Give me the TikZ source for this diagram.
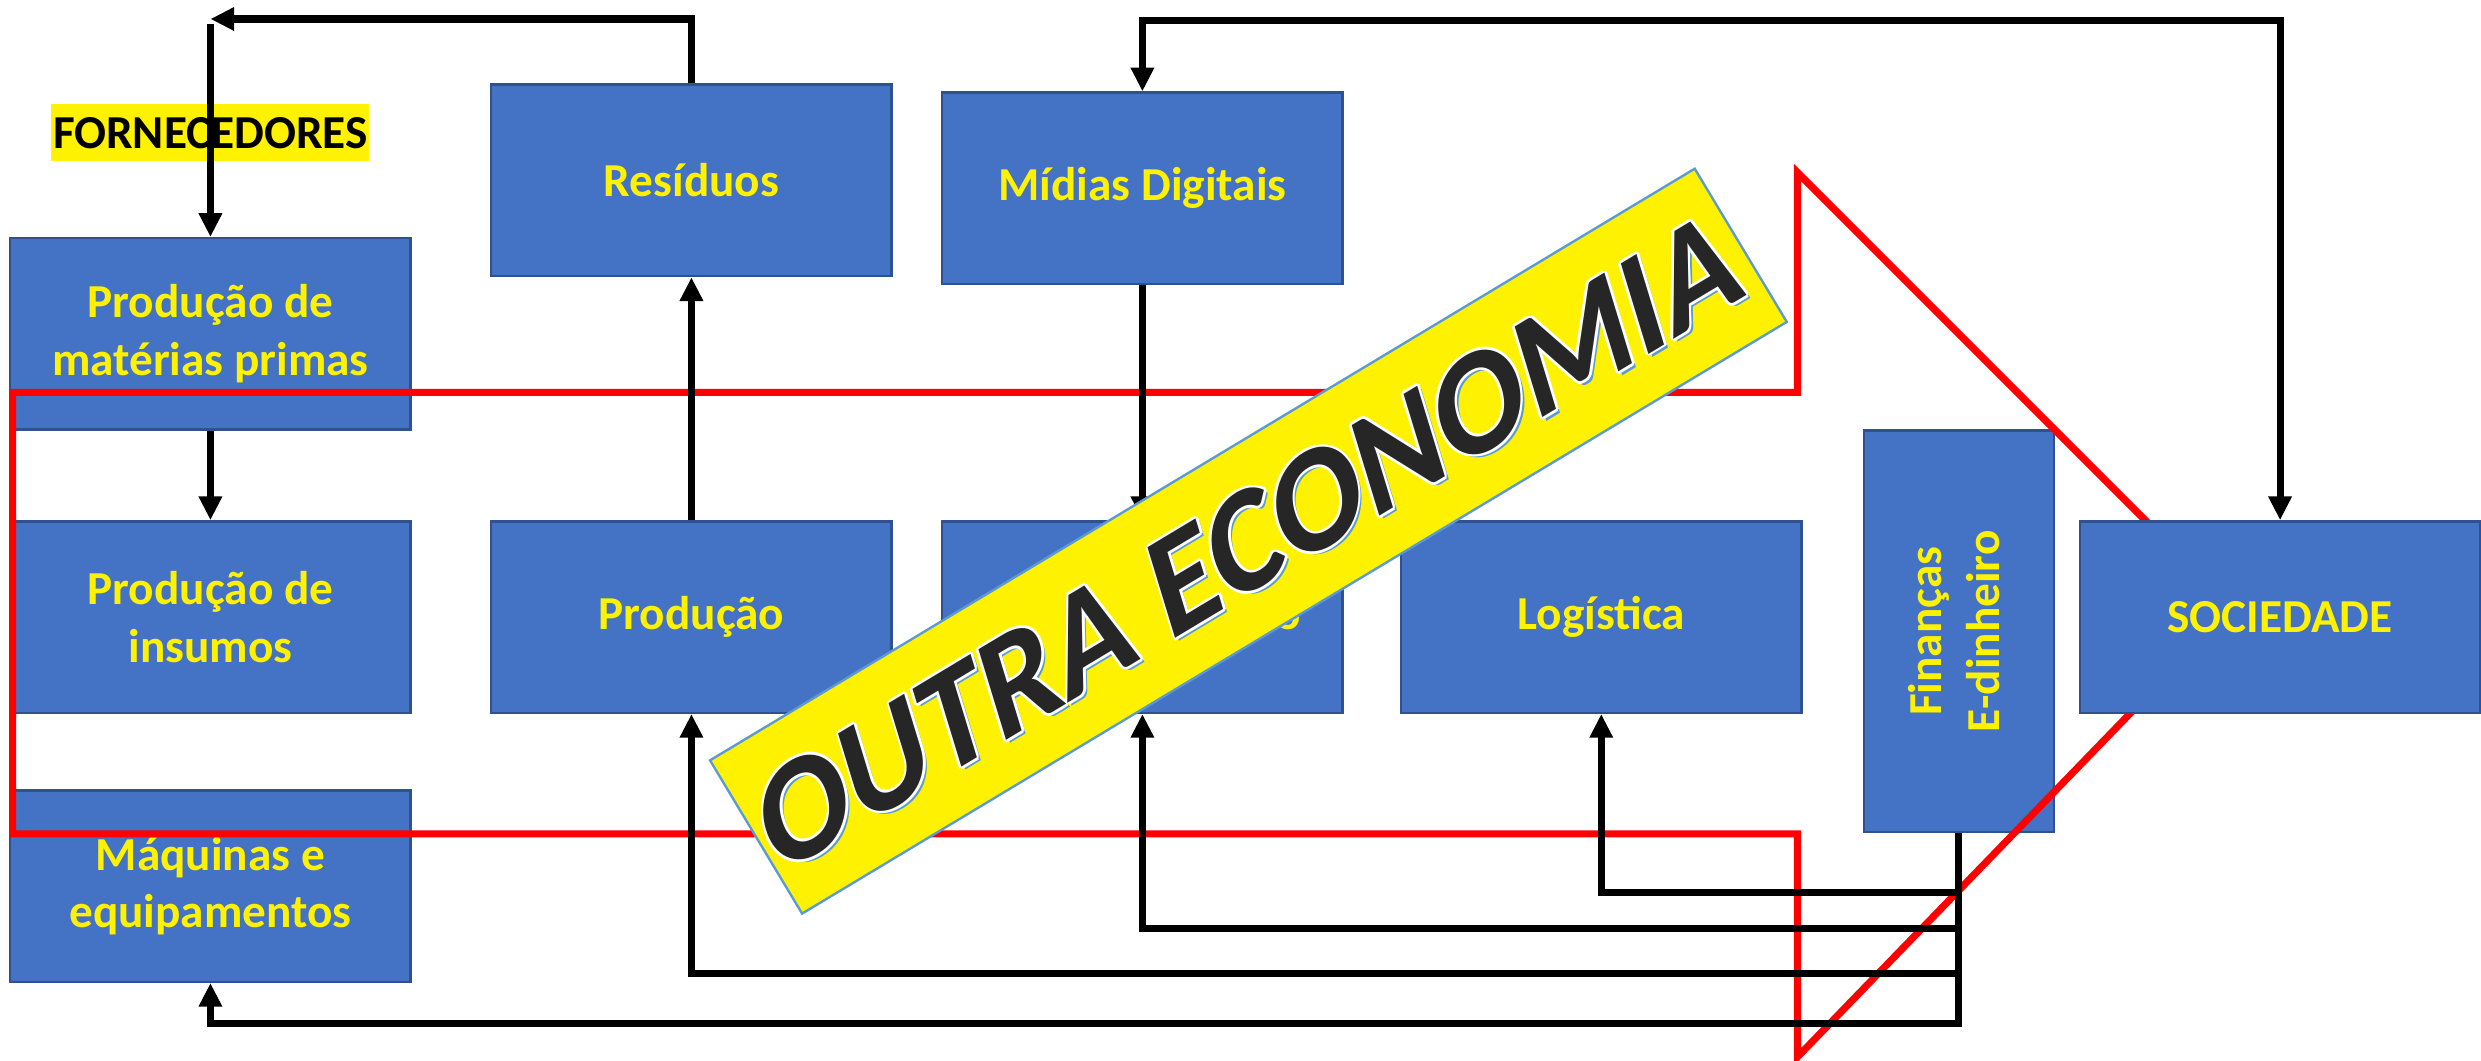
\documentclass[tikz,border=0pt]{standalone}
\usepackage{fontspec}
\setmainfont{Carlito}
\usepackage{tikz}
\usetikzlibrary{arrows.meta,calc}

\definecolor{boxblue}{HTML}{4472C4}
\definecolor{boxedge}{HTML}{2F528F}
\definecolor{bannerblue}{HTML}{5B9BD5}
\definecolor{wordblack}{HTML}{262626}

\begin{document}
\begin{tikzpicture}[x=0.2mm, y=0.2mm,
  box/.style={draw=boxedge, line width=0.3mm, fill=boxblue, text=yellow,
    font=\fontsize{17}{20.7}\selectfont\bfseries, align=center,
    minimum width=50.6mm, minimum height=24.2mm, inner sep=0pt},
  hilite/.style={fill=yellow, text=black, font=\fontsize{17}{20.7}\selectfont\bfseries,
    minimum width=40.2mm, minimum height=7.2mm, inner sep=0pt},
  arr/.style={line width=0.9mm, line join=miter, -{Triangle[length=3mm,width=2.8mm]}},
  darr/.style={line width=0.9mm, line join=miter,
    {Triangle[length=3mm,width=2.8mm]}-{Triangle[length=3mm,width=2.8mm]}},
  redline/.style={draw=red, line width=0.9mm, line join=miter},
  banner/.style={fill=yellow, draw=bannerblue, line width=0.3mm,
    minimum width=145.2mm, minimum height=22.6mm, inner sep=0pt},
  word/.style={font=\fontsize{51}{61}\selectfont\bfseries, inner sep=0pt,
    cm={0.857,0.515,-0.30,0.985,(0,0)}}]

\useasboundingbox (0,0) rectangle (1568,670);

% Supplier label
\node[hilite] (forn) at (133,586) {FORNECEDORES};

% Left column
\node[box] (matprimas) at (133,459) {Produção de\\matérias primas};
\node[box] (insumos) at (133,280) {Produção de\\insumos};
\node[box] (maquinas) at (133,110) {Máquinas e\\equipamentos};

% Middle
\node[box] (residuos) at (437,556) {Resíduos};
\node[box] (producao) at (437,280) {Produção};
\node[box] (midias) at (722,551) {Mídias Digitais};
\node[box] (comercial) at (722,280) {Comercialização};
\node[box] (logistica) at (1012,280) {Logística};

% Finance
\node[box, minimum width=24mm, minimum height=50.8mm] (financas) at (1238,271)
  {\rotatebox{90}{\begin{tabular}{@{}c@{}}Finanças\\E-dinheiro\end{tabular}}};

% Red frame
\draw[redline] (8,422) -- (1136,422) -- (1136,561) -- (1411,286)
  -- (1136,2) -- (1136,143) -- (8,143) -- cycle;

% Society
\node[box] (sociedade) at (1441,280) {SOCIEDADE};

% Flows
\coordinate (fornarrow) at (133,658);
\coordinate (fornstart) at (133,655);
\coordinate (toprail) at (0,657);
\draw[arr] (producao.north) -- (residuos.south);
\draw[arr] (residuos.north) |- (fornarrow);
\draw[arr] (fornstart) -- (matprimas.north);
\draw[arr] (matprimas.south) -- (insumos.north);
\draw[arr] (midias.south) -- (comercial.north);
\draw[darr] (midias.north) -- (midias.north |- toprail) -| (sociedade.north);

% Money
\draw[arr] (financas.south) -- (1238,23) -| (maquinas.south);
\draw[arr] (1238,106) -| (logistica.south);
\draw[arr] (1238,83) -| (comercial.south);
\draw[arr] (1238,55) -| (producao.south);

% Banner
\node[banner, rotate=31] (outra) at (789,328) {};
\node[word, text=bannerblue] (outrashadow) at ($(outra.center)+(2.5,-2)$) {OUTRA ECONOMIA};
\foreach \a in {0,45,...,315}
  \node[word, text=white] (outraedge\a) at ($(outra.center)+(\a:1.7)$) {OUTRA ECONOMIA};
\node[word, text=wordblack] (outratext) at (outra.center) {OUTRA ECONOMIA};

\end{tikzpicture}
\end{document}
